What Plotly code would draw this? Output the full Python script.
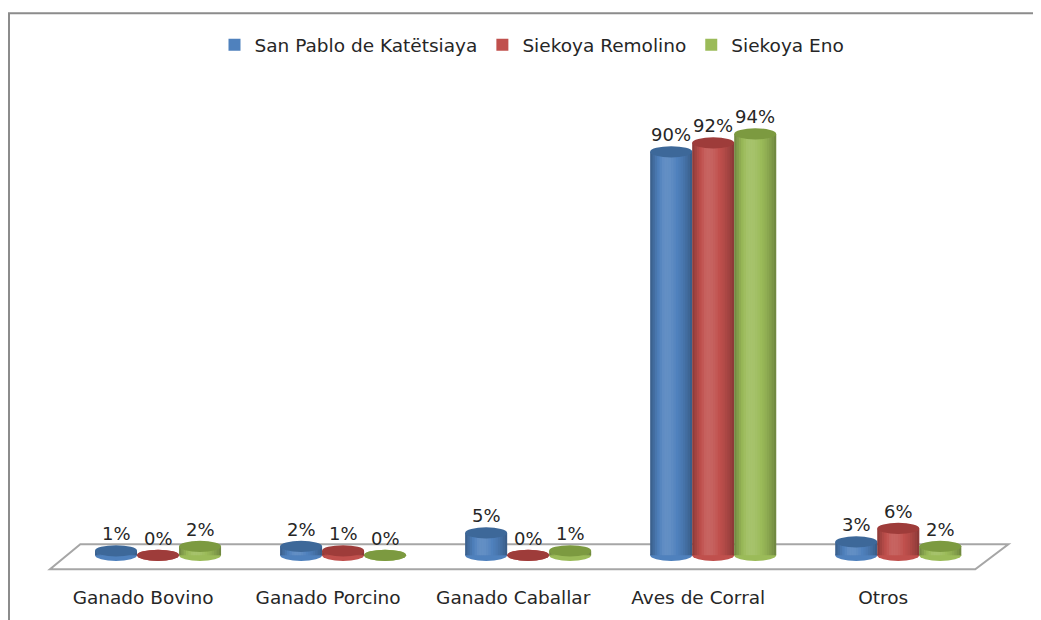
import plotly.graph_objects as go

categories = ["Ganado Bovino", "Ganado Porcino", "Ganado Caballar", "Aves de Corral", "Otros"]
series_names = ["San Pablo de Katëtsiaya", "Siekoya Remolino", "Siekoya Eno"]
san_pablo = [1, 2, 5, 90, 3]
remolino = [0, 1, 0, 92, 6]
eno = [2, 0, 1, 94, 2]

colors = ["#4F81BD", "#C0504D", "#9BBB59"]
top_colors = ["#3D6899", "#9E3C3A", "#7C9A40"]

FONT = "DejaVu Sans"
FS = 18.5
FS_LBL = 18
TXT = "#262626"
OFF = 8  # page body margin
W, H = 1041 - OFF, 620 - OFF
L, R, T, B = 47 - OFF, 28, 107 - OFF, 47.25
XR = [-0.6, 4.62]
YR = [-3.5, 100]

bar_w = 0.227
ell_h = 1.25

fig = go.Figure()
x_idx = list(range(len(categories)))
all_series = [san_pablo, remolino, eno]
for j, (name, vals) in enumerate(zip(series_names, all_series)):
    fig.add_trace(go.Bar(
        x=x_idx, y=vals, name=name,
        width=bar_w, offset=(j - 1.5) * bar_w,
        marker=dict(color=colors[j], line=dict(width=0)),
        hoverinfo="skip",
    ))


def px_to_paper_x(px):  # px given in reference-image coordinates
    return (px - OFF - L) / (W - L - R)


def px_to_paper_y(py):
    return (H - B - (py - OFF)) / (H - T - B)


shapes = []
# floor
shapes.append(dict(type="path", xref="x", yref="y", layer="below",
                   path="M -0.42,2.45 L 4.595,2.45 L 4.416,-3.1 L -0.584,-3.1 Z",
                   line=dict(color="#A6A6A6", width=2), fillcolor="rgba(255,255,255,0)"))
# outer frame (top and left)
shapes.append(dict(type="path", xref="paper", yref="paper", layer="below",
                   path=f"M {px_to_paper_x(9)},{px_to_paper_y(625)} L {px_to_paper_x(9)},{px_to_paper_y(13)} L {px_to_paper_x(1050)},{px_to_paper_y(13)}",
                   line=dict(color="#8C8C8C", width=2)))

# smooth cylinder shading profile (light near 38% of width, dark at edges)
N_STRIPS = 18
strips = []
for k in range(N_STRIPS):
    t = (k + 0.5) / N_STRIPS
    d = (t - 0.38) / (0.38 if t < 0.38 else 0.62)
    shade = d * d
    if shade < 0.18:
        strips.append(("255,255,255", 0.12 * (1 - shade / 0.18)))
    else:
        strips.append(("0,0,0", 0.30 * (shade - 0.18) / 0.82))

annotations = []
for j, vals in enumerate(all_series):
    for i, v in enumerate(vals):
        c = i + (j - 1) * bar_w
        x0, x1 = c - bar_w / 2, c + bar_w / 2
        # bottom ellipse
        shapes.append(dict(type="circle", xref="x", yref="y", layer="below",
                           x0=x0, x1=x1, y0=-ell_h, y1=ell_h,
                           fillcolor=colors[j], line=dict(width=0)))
        if v > 0:
            for k, (rgb, a) in enumerate(strips):
                if a <= 0.005:
                    continue
                sx0 = x0 + (x1 - x0) * k / N_STRIPS
                sx1 = x0 + (x1 - x0) * (k + 1) / N_STRIPS
                shapes.append(dict(type="rect", xref="x", yref="y", layer="above",
                                   x0=sx0, x1=sx1, y0=0, y1=v,
                                   fillcolor=f"rgba({rgb},{a:.3f})", line=dict(width=0)))
        # top ellipse
        shapes.append(dict(type="circle", xref="x", yref="y", layer="above",
                           x0=x0, x1=x1, y0=v - ell_h, y1=v + ell_h,
                           fillcolor=top_colors[j], line=dict(width=0)))
        annotations.append(dict(x=c, y=v, xref="x", yref="y", text=f"{v}%",
                                showarrow=False, yshift=17, yanchor="middle",
                                font=dict(family=FONT, size=FS_LBL, color=TXT)))

fig.update_layout(
    width=W, height=H,
    margin=dict(l=L, r=R, t=T, b=B, pad=0),
    paper_bgcolor="white", plot_bgcolor="white",
    barmode="overlay",
    shapes=shapes,
    annotations=annotations,
    showlegend=True,
    legend=dict(orientation="h", x=px_to_paper_x(532), xanchor="center",
                y=px_to_paper_y(45), yanchor="middle",
                font=dict(family=FONT, size=FS, color=TXT),
                itemwidth=30, bgcolor="rgba(0,0,0,0)"),
    xaxis=dict(range=XR, tickvals=[i - 0.081 for i in x_idx], ticktext=categories,
               ticks="outside", ticklen=10, tickcolor="rgba(0,0,0,0)",
               showgrid=False, zeroline=False, showline=False,
               tickfont=dict(family=FONT, size=FS, color=TXT)),
    yaxis=dict(range=YR, visible=False, showgrid=False, zeroline=False),
    font=dict(family=FONT),
)

fig.write_html("out.html")
